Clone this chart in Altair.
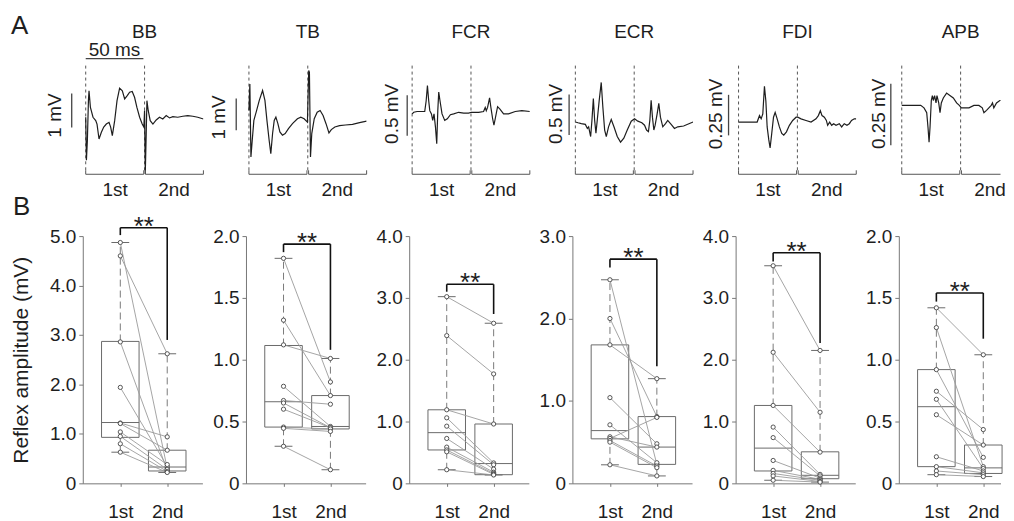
import altair as alt
import pandas as pd

FONT = "Liberation Sans"
INK = "#1e1e1e"
GRAY = "#6a6a6a"
MUSCLES = ["BB", "TB", "FCR", "ECR", "FDI", "APB"]

# ---------------- A: averaged reflex traces (time in ms, amplitude in mV) ----------------
BB_T = [0, 0.6, 1.4, 2.3, 2.8, 4.0, 6.2, 8.5, 9.6, 11.3, 13.3, 15.3, 17.5, 19.8, 21.2, 22.6,
        24.6, 26.6, 28.8, 31.1, 33.1, 35.3, 37.3, 39.5, 41.5, 43.5, 45.8, 48.0, 49.4, 50.0,
        50.6, 51.4, 52.0, 53.1, 54.8, 57.1, 59.9, 62.7, 65.5, 68.4, 71.2, 74.0, 78.2, 82.5,
        86.7, 91.0, 95.2, 100]
BB_V = [0, -1.27, -0.69, 0.49, 0.78, 0.29, 0, -0.10, -0.20, -0.64, -0.44, -0.29, -0.20, -0.15,
        -0.29, -0.54, -0.10, 0.49, 0.86, 0.78, 0.54, 0.64, 0.74, 0.76, 0.59, 0.29, 0, -0.20,
        -0.29, 0.20, -1.67, -0.49, 0.49, 0.20, -0.10, -0.20, -0.08, 0, -0.05, 0.05, -0.02,
        0.02, 0, 0.03, 0.05, 0.03, 0, -0.05]

TB_T = [0, 0.8, 1.7, 2.8, 4.2, 6.5, 8.8, 11.6, 13.6, 15.3, 17.2, 18.6, 20.1, 21.5, 22.9, 24.6,
        26.3, 28.5, 30.8, 33.6, 37.0, 41.2, 44.1, 46.9, 49.7, 50.8, 51.4, 52.3, 53.4, 55.5,
        58.0, 60.5, 63.0, 65.5, 68.0, 70.0, 73.0, 77.0, 82.0, 88.0, 94.0, 100]
TB_V = [0.30, 1.11, -1.11, -0.61, 0, 0.30, 0.61, 0.91, 0.61, 0, -0.61, -1.01, -0.40, 0, 0.10,
        -0.10, -0.35, -0.45, -0.40, -0.25, -0.10, 0.05, 0.10, 0.05, -0.05, 1.52, 1.46, -1.11,
        -0.40, 0.05, 0.25, 0.30, 0.15, -0.10, -0.38, -0.28, -0.20, -0.16, -0.14, -0.12, -0.07,
        -0.02]

FCR_T = [0, 1.4, 4.2, 8.5, 10.7, 11.9, 13.0, 14.1, 15.0, 16.4, 17.5, 18.6, 19.8, 20.9, 21.8,
         22.6, 23.7, 25.4, 27.7, 29.9, 32.5, 35.3, 39.5, 43.8, 48.0, 50.3, 52.3, 56.5, 60.7,
         62.1, 63.0, 64.1, 65.8, 66.9, 68.4, 69.5, 70.6, 72.6, 74.6, 77.7, 81.9, 87.6, 93.2, 100]
FCR_V = [-0.02, 0, 0.01, 0.01, 0.01, 0.14, 0.33, 0.14, 0.02, -0.02, -0.10, -0.02, -0.18, -0.39,
         0.02, 0.25, 0.14, -0.02, -0.10, -0.08, -0.03, -0.02, 0, -0.01, -0.01, 0, 0, 0, 0.01,
         0.06, 0.02, 0.06, 0.18, 0.06, -0.08, -0.16, -0.08, 0.07, 0.04, -0.02, -0.02, 0.01,
         0.02, 0.01]

ECR_T = [0, 2.3, 5.1, 8.5, 10.2, 11.3, 13.0, 14.1, 15.3, 16.4, 17.5, 18.6, 20.3, 22.0, 23.4,
         24.9, 26.3, 28.2, 30.5, 32.8, 35.6, 38.4, 41.2, 44.1, 47.5, 50.3, 53.1, 56.5, 58.8,
         60.5, 62.1, 63.3, 64.4, 65.5, 66.7, 67.8, 69.5, 70.9, 72.3, 74.3, 76.6, 78.5, 81.4,
         84.2, 87.0, 92.0, 100]
ECR_V = [0, -0.01, -0.02, -0.03, -0.08, -0.06, -0.18, 0.02, 0.29, 0.02, -0.14, 0.02, 0.27, 0.49,
         0.18, -0.10, -0.18, -0.06, 0.03, -0.06, -0.18, -0.25, -0.20, -0.10, 0.01, 0.04, 0.01,
         -0.01, -0.04, -0.10, -0.12, 0.02, 0.27, 0.06, -0.10, -0.04, 0.10, 0.23, 0.06, -0.06,
         -0.02, 0.02, -0.03, -0.08, -0.06, -0.05, 0]

FDI_T = [0, 5.1, 10.7, 15.8, 17.8, 19.2, 20.6, 22.0, 23.2, 24.3, 25.7, 26.8, 28.2, 29.7, 31.1,
         32.8, 34.7, 36.7, 38.4, 40.7, 43.2, 46.0, 48.9, 50.3, 53.1, 57.3, 61.6, 65.8, 67.8,
         69.5, 70.9, 72.9, 74.6, 75.7, 77.4, 79.1, 80.8, 82.8, 85.6, 87.6, 89.8, 92.1, 94.1,
         96.0, 98.3, 100]
FDI_V = [0, 0, 0, 0, 0.04, 0.02, 0.05, 0.22, 0.13, -0.03, -0.11, -0.16, -0.07, 0.03, 0.06, 0.02,
         -0.03, -0.07, -0.08, -0.06, -0.02, 0.01, 0.03, 0.03, 0.02, 0.01, 0, 0.02, 0.04, 0.07,
         0.04, 0.03, 0.01, -0.02, 0, -0.02, -0.01, -0.02, -0.01, -0.03, -0.01, -0.02, -0.01,
         0.01, 0.02, 0.02]

APB_T = [0, 4.8, 10.5, 16.1, 18.9, 21.2, 22.3, 23.2, 24.0, 25.1, 26.0, 26.8, 27.9, 29.1, 29.9,
         31.4, 32.5, 33.6, 35.3, 38.1, 40.9, 43.8, 46.6, 48.9, 50.6, 52.8, 57.1, 61.3, 65.5,
         68.4, 69.8, 72.0, 74.0, 76.0, 77.1, 78.2, 80.5, 83.3, 86.7]
APB_V = [0, 0, 0, 0, -0.01, -0.03, -0.09, -0.15, -0.09, 0.02, 0.04, 0.02, 0.04, 0.01, 0.04, 0.01,
         -0.03, 0.01, 0.03, 0.05, 0.04, 0.03, 0.01, 0, -0.01, -0.01, -0.01, 0, 0, -0.01, -0.03,
         -0.02, -0.01, 0, 0.01, -0.01, 0.01, 0.02, 0.02]

TRACE_T = [BB_T, TB_T, FCR_T, ECR_T, FDI_T, APB_T]
TRACE_V = [BB_V, TB_V, FCR_V, ECR_V, FDI_V, APB_V]
TRACE_YDOM = [[-1.71, 1.67], [-1.67, 1.82], [-0.78, 0.64], [-0.66, 0.76], [-0.328, 0.379],
              [-0.284, 0.182]]
TOP_TMAX = [100, 100, 100, 100, 100, 83.9]

# amplitude scale bars
SCALE_TEXT = ["1 mV", "1 mV", "0.5 mV", "0.5 mV", "0.25 mV", "0.25 mV"]
SCALE_T = [-11.9, -10.8, -4.2, -5.3, -8.5, -9.3]
SCALE_LO = [-0.30, -0.30, -0.29, -0.16, -0.082, -0.162]
SCALE_HI = [0.70, 0.67, 0.21, 0.34, 0.168, 0.088]
SCALE_LABEL_T = [-26.0, -25.0, -16.9, -16.1, -19.0, -19.2]
SCALE_LABEL_V = [0.05, 0.09, -0.02, 0.10, 0.05, -0.034]

PERIOD_EDGES = [0, 50]
PERIOD_NAMES = ["1st", "2nd"]
PERIOD_MID = [25, 75]
PERIOD_START = [0, 50.7]
PERIOD_END = [49.3, 100]
TIME_BAR = [0, 49]   # 50 ms bar

# ---------------- B: reflex amplitude per subject (mV) ----------------
FIRST = [
    [4.87, 4.60, 2.86, 1.94, 1.22, 1.21, 1.04, 0.95, 0.80, 0.63],
    [1.82, 1.32, 1.12, 0.785, 0.67, 0.65, 0.60, 0.455, 0.445, 0.30],
    [3.02, 2.39, 1.19, 1.06, 0.925, 0.726, 0.586, 0.54, 0.51, 0.22],
    [2.47, 2.00, 1.68, 1.04, 0.71, 0.565, 0.545, 0.52, 0.50, 0.225],
    [3.52, 2.12, 1.26, 0.91, 0.74, 0.37, 0.21, 0.16, 0.12, 0.05],
    [1.42, 1.26, 0.92, 0.745, 0.68, 0.555, 0.215, 0.135, 0.10, 0.07],
]
SECOND = [
    [0.30, 2.62, 0.26, 0.34, 0.94, 0.67, 0.38, 0.28, 0.24, 0.22],
    [0.82, 0.71, 1.01, 0.46, 0.64, 0.45, 0.45, 0.44, 0.42, 0.11],
    [2.59, 1.77, 0.96, 0.33, 0.30, 0.23, 0.18, 0.16, 0.145, 0.135],
    [0.23, 0.81, 1.27, 0.48, 0.25, 0.44, 0.80, 0.21, 0.19, 0.09],
    [2.15, 1.15, 0.505, 0.145, 0.12, 0.085, 0.065, 0.05, 0.03, 0.02],
    [1.04, 0.135, 0.21, 0.435, 0.12, 0.31, 0.10, 0.085, 0.07, 0.055],
]
# box statistics: (low whisker, Q1, median, Q3, high whisker)
STATS_1ST = [
    (0.63, 0.93, 1.23, 2.87, 4.87),
    (0.30, 0.455, 0.66, 1.115, 1.82),
    (0.22, 0.54, 0.82, 1.19, 3.02),
    (0.225, 0.54, 0.64, 1.68, 2.47),
    (0.05, 0.20, 0.57, 1.26, 3.52),
    (0.07, 0.135, 0.62, 0.92, 1.42),
]
STATS_2ND = [
    (0.22, 0.25, 0.33, 0.67, 2.62),
    (0.11, 0.44, 0.46, 0.71, 1.01),
    (0.135, 0.14, 0.32, 0.96, 2.59),
    (0.09, 0.23, 0.44, 0.81, 1.27),
    (0.02, 0.075, 0.13, 0.51, 2.15),
    (0.055, 0.08, 0.125, 0.31, 1.04),
]
# significance bracket: (top, left leg end, right leg end)
BRACKETS = [
    (5.17, 5.02, 2.90),
    (1.935, 1.87, 1.08),
    (3.22, 3.10, 2.74),
    (2.72, 2.62, 1.42),
    (3.73, 3.59, 2.27),
    (1.54, 1.47, 1.17),
]
Y_MAX = [5.0, 2.0, 4.0, 3.0, 4.0, 2.0]
Y_TICKS = [[0, 1, 2, 3, 4, 5], [0, 0.5, 1, 1.5, 2], [0, 1, 2, 3, 4], [0, 1, 2, 3],
           [0, 1, 2, 3, 4], [0, 0.5, 1, 1.5, 2]]
BOT_XMAX = [2.75, 2.75, 2.75, 2.75, 2.75, 2.367]
TOP_W = [121, 121, 121, 121, 121, 102]
BOT_W = [120, 120, 120, 120, 120, 102]
BOX_HALF = 0.4
CAP_HALF = 0.19


def txt(**kw):
    base = dict(font=FONT, color=INK)
    base.update(kw)
    return base


def top_panel(i):
    tmax = TOP_TMAX[i]
    xs = alt.Scale(domain=[-2.5, tmax], nice=False, zero=False)
    ys = alt.Scale(domain=TRACE_YDOM[i], nice=False, zero=False)

    def X(f):
        return alt.X(f, type="quantitative", scale=xs, axis=None)

    def Y(f):
        return alt.Y(f, type="quantitative", scale=ys, axis=None)

    layers = []
    layers.append(alt.Chart(pd.DataFrame({"t": PERIOD_EDGES})).mark_rule(
        color="#555", strokeDash=[3, 3], strokeWidth=1).encode(
        x=X("t"), y=alt.value(5), y2=alt.value(112)))
    layers.append(alt.Chart(pd.DataFrame({"t": TRACE_T[i], "v": TRACE_V[i]})).mark_line(
        color=INK, strokeWidth=1.2, clip=True).encode(x=X("t"), y=Y("v")))
    seg = pd.DataFrame({"a": PERIOD_START, "b": [min(e, tmax) for e in PERIOD_END]})
    layers.append(alt.Chart(seg).mark_rule(color="#555", strokeWidth=1).encode(
        x=X("a"), x2=alt.X2("b"), y=alt.value(114)))
    ends = [e for e in PERIOD_START + PERIOD_END if e <= tmax]
    layers.append(alt.Chart(pd.DataFrame({"t": ends})).mark_rule(color="#555", strokeWidth=1).encode(
        x=X("t"), y=alt.value(110), y2=alt.value(114)))
    layers.append(alt.Chart(pd.DataFrame({"t": PERIOD_MID, "s": PERIOD_NAMES})).mark_text(
        **txt(fontSize=19, align="center", baseline="alphabetic")).encode(
        x=X("t"), y=alt.value(136), text="s:N"))
    layers.append(alt.Chart(pd.DataFrame({"t": [50], "s": [MUSCLES[i]]})).mark_text(
        **txt(fontSize=19, align="center", baseline="alphabetic")).encode(
        x=X("t"), y=alt.value(-23), text="s:N"))
    layers.append(alt.Chart(pd.DataFrame({"t": [SCALE_T[i]], "lo": [SCALE_LO[i]], "hi": [SCALE_HI[i]]}))
                  .mark_rule(color="#444", strokeWidth=1.3).encode(
        x=X("t"), y=Y("lo"), y2=alt.Y2("hi")))
    layers.append(alt.Chart(pd.DataFrame({"t": [SCALE_LABEL_T[i]], "v": [SCALE_LABEL_V[i]],
                                          "s": [SCALE_TEXT[i]]})).mark_text(
        **txt(fontSize=19, align="center", baseline="middle", angle=270)).encode(
        x=X("t"), y=Y("v"), text="s:N"))
    if i == 0:
        layers.append(alt.Chart(pd.DataFrame({"a": [TIME_BAR[0]], "b": [TIME_BAR[1]]})).mark_rule(
            color="#444", strokeWidth=1.3).encode(x=X("a"), x2=alt.X2("b"), y=alt.value(-2)))
        layers.append(alt.Chart(pd.DataFrame({"t": [(TIME_BAR[0] + TIME_BAR[1]) / 2], "s": ["50 ms"]}))
                      .mark_text(**txt(fontSize=19, align="center", baseline="alphabetic")).encode(
            x=X("t"), y=alt.value(-5), text="s:N"))
        layers.append(alt.Chart(pd.DataFrame({"s": ["A"]})).mark_text(
            **txt(fontSize=26, align="left", baseline="alphabetic")).encode(
            x=alt.value(-72), y=alt.value(-27), text="s:N"))
    return alt.layer(*layers).properties(width=TOP_W[i], height=115)


def bottom_panel(i):
    xs = alt.Scale(domain=[0.2, BOT_XMAX[i]], nice=False, zero=False)
    ys = alt.Scale(domain=[0, Y_MAX[i]], nice=False, zero=False)
    xaxis = alt.Axis(values=[1, 2], labelExpr="datum.value == 1 ? '1st' : '2nd'", tickSize=3,
                     labelPadding=16, domainColor="#777", tickColor="#777", labelFontSize=19,
                     labelColor=INK, labelFont=FONT, labelAngle=0, grid=False, title=None)
    yaxis = alt.Axis(values=Y_TICKS[i],
                     labelExpr="datum.value == 0 ? '0' : format(datum.value, '.1f')",
                     tickSize=4, labelPadding=3, domainColor="#777", tickColor="#777",
                     labelFontSize=19, labelColor=INK, labelFont=FONT, grid=False,
                     title=("Reflex amplitude (mV)" if i == 0 else None),
                     titleFontSize=21, titleFont=FONT, titleFontWeight="normal",
                     titleColor=INK, titlePadding=18)

    def X(f):
        return alt.X(f, type="quantitative", scale=xs, axis=xaxis)

    def Y(f):
        return alt.Y(f, type="quantitative", scale=ys, axis=yaxis)

    s1, s2 = STATS_1ST[i], STATS_2ND[i]
    pos = [1, 2]
    box = pd.DataFrame({
        "pos": pos,
        "left": [p - BOX_HALF for p in pos], "right": [p + BOX_HALF for p in pos],
        "capl": [p - CAP_HALF for p in pos], "capr": [p + CAP_HALF for p in pos],
        "lo": [s1[0], s2[0]], "q1": [s1[1], s2[1]], "med": [s1[2], s2[2]],
        "q3": [s1[3], s2[3]], "hi": [s1[4], s2[4]],
    })
    n = len(FIRST[i])
    pts = pd.DataFrame({
        "subj": list(range(n)) * 2,
        "pos": [1] * n + [2] * n,
        "val": FIRST[i] + SECOND[i],
    })
    top, lft, rgt = BRACKETS[i]
    brk = pd.DataFrame({"x1": [1, 1, 2], "x2": [2, 1, 2], "y1": [top, lft, rgt], "y2": [top, top, top]})

    layers = [
        alt.Chart(box).mark_rect(fillOpacity=0, stroke=GRAY, strokeWidth=1).encode(
            x=X("left"), x2=alt.X2("right"), y=Y("q1"), y2=alt.Y2("q3")),
        alt.Chart(box).mark_rule(color=GRAY, strokeWidth=1).encode(
            x=X("left"), x2=alt.X2("right"), y=Y("med")),
        alt.Chart(box).mark_rule(color="#7a7a7a", strokeWidth=1, strokeDash=[7, 4]).encode(
            x=X("pos"), y=Y("q3"), y2=alt.Y2("hi")),
        alt.Chart(box).mark_rule(color="#7a7a7a", strokeWidth=1, strokeDash=[7, 4]).encode(
            x=X("pos"), y=Y("lo"), y2=alt.Y2("q1")),
        alt.Chart(box).mark_rule(color=GRAY, strokeWidth=1).encode(
            x=X("capl"), x2=alt.X2("capr"), y=Y("hi")),
        alt.Chart(box).mark_rule(color=GRAY, strokeWidth=1).encode(
            x=X("capl"), x2=alt.X2("capr"), y=Y("lo")),
        alt.Chart(pts).mark_line(color="#9a9a9a", strokeWidth=0.9).encode(
            x=X("pos"), y=Y("val"), detail="subj:N"),
        alt.Chart(pts).mark_point(shape="circle", filled=True, fill="white", stroke="#444",
                                  strokeWidth=0.9, size=18, opacity=1).encode(
            x=X("pos"), y=Y("val")),
        alt.Chart(brk).mark_rule(color="#111", strokeWidth=1.6).encode(
            x=X("x1"), x2=alt.X2("x2"), y=Y("y1"), y2=alt.Y2("y2")),
        alt.Chart(pd.DataFrame({"x": [1.5], "y": [top], "s": ["**"]})).mark_text(
            **txt(fontSize=26, align="center", baseline="alphabetic", dy=7)).encode(
            x=X("x"), y=Y("y"), text="s:N"),
    ]
    if i == 0:
        layers.append(alt.Chart(pd.DataFrame({"s": ["B"]})).mark_text(
            **txt(fontSize=26, align="left", baseline="alphabetic")).encode(
            x=alt.value(-70), y=alt.value(-21), text="s:N"))
    return alt.layer(*layers).properties(width=BOT_W[i], height=248)


panels = [top_panel(i) for i in range(6)] + [bottom_panel(i) for i in range(6)]
chart = alt.concat(*panels, columns=6, spacing={"row": 61, "column": 42.7},
                   bounds="flush").properties(
    padding={"left": 2, "top": 4, "right": 0, "bottom": 0}
).configure(font=FONT).configure_view(strokeWidth=0)

chart.save("out.html", embed_options={"renderer": "svg", "actions": False})
